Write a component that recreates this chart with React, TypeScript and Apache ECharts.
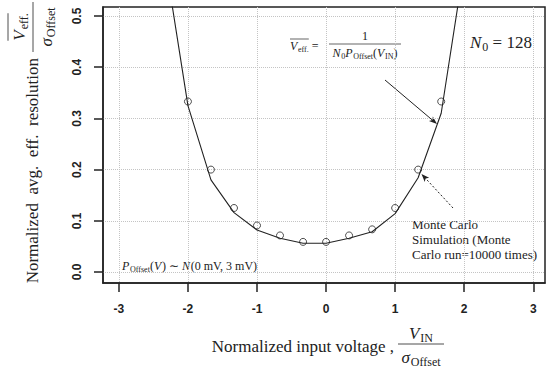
import React, { useEffect, useRef } from "react";
import * as echarts from "echarts";

// ---- data ----
const xTicks = [-3, -2, -1, 0, 1, 2, 3];
const yTicks = [0, 0.1, 0.2, 0.3, 0.4, 0.5];

// Monte Carlo simulation (hollow circles)
const mcX = [-2, -1.667, -1.333, -1, -0.667, -0.333, 0, 0.333, 0.667, 1, 1.333, 1.667];
const mcY = [0.333, 0.2, 0.125, 0.0909, 0.0714, 0.0588, 0.0588, 0.0714, 0.0833, 0.125, 0.2, 0.333];

// theoretical curve (solid line)
const thX = [-2.333, -2, -1.667, -1.333, -1, -0.667, -0.333, 0, 0.333, 0.667, 1, 1.333, 1.667, 2];
const thY = [0.61, 0.325, 0.18, 0.116, 0.082, 0.0658, 0.0561, 0.0561, 0.0658, 0.0787, 0.114, 0.184, 0.31, 0.6];

const SERIF = "Liberation Serif";
const INK = "#222";

type Part = [string, "n" | "i" | "s"];

let ctx: CanvasRenderingContext2D | null = null;
function measure(text: string, size: number, italic: boolean) {
  if (!ctx) ctx = document.createElement("canvas").getContext("2d");
  if (!ctx) return text.length * size * 0.5;
  ctx.font = `${italic ? "italic " : ""}${size}px ${SERIF}`;
  return ctx.measureText(text).width;
}

function plain(x: number, y: number, text: string, size: number, italic = false, align = "left", lh?: number) {
  const style: any = { text, fontFamily: SERIF, fontSize: size, fill: INK, align, verticalAlign: "middle" };
  if (italic) style.fontStyle = "italic";
  if (lh) style.lineHeight = lh;
  return { type: "text", x, y, silent: true, style };
}

// a row of normal / italic / subscript pieces; returns elements and extent
function mathRow(x: number, y: number, parts: Part[], size: number, align = "left") {
  const sub = Math.round(size * 0.68);
  const widths = parts.map(([t, k]) => measure(t, k === "s" ? sub : size, k === "i") + (k === "i" ? size * 0.06 : 0));
  const total = widths.reduce((a, b) => a + b, 0);
  let cur = align === "center" ? x - total / 2 : align === "right" ? x - total : x;
  const start = cur;
  const els: any[] = [];
  parts.forEach(([t, k], idx) => {
    if (k === "s") els.push(plain(cur, y + size * 0.3, t, sub));
    else els.push(plain(cur, y, t, size, k === "i"));
    cur += widths[idx];
  });
  return { els, start, end: cur, width: total };
}

function seg(x1: number, y1: number, x2: number, y2: number, w = 0.8, dash?: number[]) {
  return {
    type: "line",
    silent: true,
    shape: { x1, y1, x2, y2 },
    style: { stroke: INK, lineWidth: w, lineDash: dash },
  };
}

function arrow(x1: number, y1: number, x2: number, y2: number, dash?: number[]) {
  const dx = x2 - x1;
  const dy = y2 - y1;
  const L = Math.sqrt(dx * dx + dy * dy);
  const ux = dx / L;
  const uy = dy / L;
  const hl = 8;
  const hw = 3;
  const bx = x2 - ux * hl;
  const by = y2 - uy * hl;
  return [
    seg(x1, y1, bx + ux * 2, by + uy * 2, 1, dash),
    {
      type: "polygon",
      silent: true,
      shape: {
        points: [
          [x2, y2],
          [bx - uy * hw, by + ux * hw],
          [bx + ux * 2, by + uy * 2],
          [bx + uy * hw, by - ux * hw],
        ],
      },
      style: { fill: INK },
    },
  ];
}

export default function App() {
  const ref = useRef<HTMLDivElement>(null);

  useEffect(() => {
    document.body.style.margin = "0";
    if (!ref.current) return;
    const chart = echarts.init(ref.current, null, { renderer: "svg" });

    // y-axis title: rotated group, screen x = ly, screen y = 150 - lx
    const yNum = mathRow(123, 19, [["V", "i"], ["eff.", "s"]], 17, "center");
    const yDen = mathRow(123, 46, [["σ", "i"], ["Offset", "s"]], 17, "center");
    const yTitle = {
      type: "group",
      x: 0,
      y: 150,
      rotation: Math.PI / 2,
      children: [
        plain(92, 32, "Normalized\u00a0 avg.\u00a0 eff.\u00a0 resolution", 17, false, "right"),
        seg(98, 33, 148, 33, 0.8),
        ...yNum.els,
        seg(yNum.start, 8, yNum.end, 8, 0.8),
        ...yDen.els,
      ],
    };

    // x-axis title
    const xNum = mathRow(421, 333, [["V", "i"], ["IN", "s"]], 17, "center");
    const xDen = mathRow(421, 357, [["σ", "i"], ["Offset", "s"]], 17, "center");
    const xTitle = [
      plain(394, 346, "Normalized input voltage ,", 17, false, "right"),
      seg(398, 344, 444, 344, 0.8),
      ...xNum.els,
      ...xDen.els,
    ];

    // formula annotation
    const lhs = mathRow(290, 46, [["V", "i"], ["eff.", "s"]], 12);
    const eq = plain(lhs.end + 3, 46, "=", 12);
    const den = mathRow(365, 53, [["N", "i"], ["0", "s"], ["P", "i"], ["Offset", "s"], ["(", "n"], ["V", "i"], ["IN", "s"], [")", "n"]], 12, "center");
    const formula = [
      ...lhs.els,
      seg(lhs.start, 39, lhs.end, 39, 0.7),
      eq,
      plain(365, 36, "1", 12, false, "center"),
      seg(329, 44, 401, 44, 0.7),
      ...den.els,
    ];

    const n0 = mathRow(470, 42, [["N", "i"], ["0", "s"], ["\u00a0= 128", "n"]], 17);

    const mcText = plain(412, 239, "Monte Carlo\nSimulation (Monte\nCarlo run=10000 times)", 13, false, "left", 15);

    const pText = mathRow(122, 266, [["P", "i"], ["Offset", "s"], ["(", "n"], ["V", "i"], [")\u00a0∼\u00a0", "n"], ["N", "i"], ["(0\u00a0mV,\u00a03\u00a0mV)", "n"]], 12);

    chart.setOption({
      animation: false,
      backgroundColor: "#fff",
      grid: {
        left: 103,
        right: 5,
        top: 7,
        bottom: 90,
        show: true,
        borderColor: INK,
        borderWidth: 1.5,
        backgroundColor: "transparent",
      },
      xAxis: {
        type: "value",
        min: -3.23,
        max: 3.17,
        axisLine: { show: true, onZero: false, lineStyle: { color: INK, width: 1.5 } },
        axisTick: {
          show: true,
          customValues: xTicks,
          length: 9,
          lineStyle: { color: INK, width: 1.5 },
        },
        axisLabel: {
          customValues: xTicks,
          formatter: (v: number) => String(v),
          fontFamily: "Liberation Sans",
          fontWeight: "bold",
          fontSize: 12,
          color: INK,
          margin: 20,
        },
        splitLine: { show: true, lineStyle: { type: "dotted", color: "#c4c4c4", width: 1 } },
      },
      yAxis: {
        type: "value",
        min: -0.0215,
        max: 0.5176,
        axisLine: { show: true, onZero: false, lineStyle: { color: INK, width: 1.5 } },
        axisTick: {
          show: true,
          customValues: yTicks,
          length: 9,
          lineStyle: { color: INK, width: 1.5 },
        },
        axisLabel: {
          customValues: yTicks,
          formatter: (v: number) => v.toFixed(1),
          rotate: 90,
          fontFamily: "Liberation Sans",
          fontWeight: "bold",
          fontSize: 12,
          color: INK,
          margin: 20,
        },
        splitLine: { show: true, lineStyle: { type: "dotted", color: "#c4c4c4", width: 1 } },
      },
      series: [
        {
          type: "line",
          data: thX.map((x, i) => [x, thY[i]]),
          symbol: "none",
          clip: true,
          lineStyle: { color: INK, width: 1.1 },
          silent: true,
        },
        {
          type: "scatter",
          data: mcX.map((x, i) => [x, mcY[i]]),
          symbol: "circle",
          symbolSize: 7,
          itemStyle: { color: "rgba(255,255,255,0)", borderColor: INK, borderWidth: 1 },
          silent: true,
        },
      ],
      graphic: [
        yTitle,
        ...xTitle,
        ...formula,
        ...n0.els,
        mcText,
        ...pText.els,
        ...arrow(385, 80, 437, 124),
        ...arrow(453, 208, 421.5, 174, [2, 2]),
      ],
    });

    return () => chart.dispose();
  }, []);

  return <div ref={ref} style={{ width: 550, height: 373 }} />;
}
